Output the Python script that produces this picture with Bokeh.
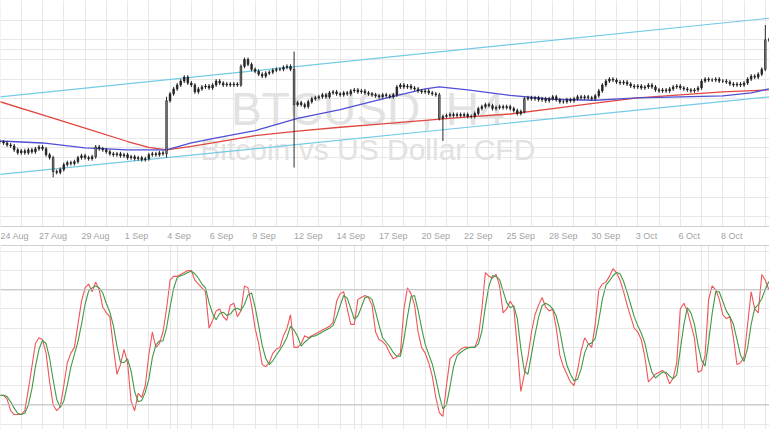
import numpy as np
from bokeh.plotting import figure
from bokeh.layouts import column
from bokeh.models import FixedTicker, Span, Label, Range1d, ColumnDataSource, Grid
from bokeh.embed import file_html
from bokeh.resources import INLINE

# ---------------- data (H4 bars, index 0 = 24 Aug 00:00) ----------------
close = [556, 555, 553, 552, 548, 545, 547, 545, 548, 546,
         549, 551, 549, 543, 540, 526, 525, 528, 533, 535,
         534, 536, 540, 542, 540, 539, 541, 551, 549, 548,
         546, 544, 543, 544, 542, 543, 540, 541, 539, 540,
         538, 539, 543, 544, 543, 545, 544, 598, 605, 610,
         614, 618, 622, 616, 614, 607, 610, 612, 613, 611,
         614, 618, 616, 614, 615, 614, 615, 614, 633, 640,
         635, 630, 628, 625, 623, 626, 627, 629, 630, 630,
         632, 633, 630, 594, 596, 594, 592, 597, 600, 601,
         602, 604, 602, 606, 607, 605, 604, 606, 605, 608,
         609, 607, 608, 606, 605, 604, 603, 602, 604, 603,
         602, 604, 612, 614, 612, 613, 611, 610, 608, 607,
         608, 606, 605, 604, 580, 582, 583, 584, 583, 584,
         583, 584, 582, 582, 585, 590, 592, 594, 593, 590,
         591, 592, 591, 592, 590, 588, 585, 587, 600, 601,
         600, 601, 599, 600, 598, 600, 602, 599, 597, 597,
         599, 598, 600, 602, 601, 602, 601, 600, 603, 608,
         614, 618, 620, 619, 617, 616, 617, 615, 613, 612,
         613, 611, 612, 614, 612, 609, 608, 609, 608, 610,
         612, 613, 611, 610, 609, 608, 609, 611, 618, 620,
         619, 619, 620, 618, 618, 617, 615, 614, 615, 614,
         616, 620, 623, 622, 625, 630, 660, 660]
first_open = 557
wick_high = {47: 602, 69: 642, 83: 648, 216: 675}
wick_low = {15: 520, 47: 540, 83: 530, 125: 557}
default_wick = 2

# moving averages (sampled)
red_ma_bars = [0, 12, 24, 36, 42, 47, 54, 60, 72, 84, 96, 108, 120, 132, 144, 156, 168, 180, 192, 204, 217]
red_ma = [597, 583.5, 570, 556.5, 550.5, 548, 551.5, 555, 562.5, 567, 571, 574.5, 578, 581.5,
          584.5, 590, 595.5, 601, 604, 607, 609]
blue_ma_bars = [0, 12, 24, 36, 47, 54, 60, 72, 84, 96, 108, 120, 124, 132, 144, 156, 168, 180,
                192, 204, 212, 217]
blue_ma = [557, 555, 550, 548, 548, 555, 559.5, 567.5, 580, 589, 600, 610, 612, 609, 603.5,
           599.5, 598.5, 601, 602, 603, 606, 610]

# trend channel
channel_bars = [0, 217.2]
channel_upper = [602, 682]
channel_lower = [523, 602]

# stochastic %K
stoch_k = [25, 25, 23, 17, 15, 15, 15, 17, 28, 40,
           52, 55, 54, 47, 32, 20, 17, 19, 30, 42,
           47, 50, 62, 74, 81, 83, 79, 84, 80, 71,
           68, 66, 50, 36, 41, 49, 42, 22, 17, 26,
           24, 30, 46, 58, 50, 52, 58, 70, 85, 87,
           87, 88, 89, 90, 90, 85, 83, 81, 79, 60,
           64, 69, 70, 66, 64, 72, 73, 66, 69, 82,
           81, 72, 60, 52, 41, 40, 42, 47, 49, 50,
           56, 60, 67, 50, 50, 52, 56, 55, 56, 57,
           58, 59, 60, 61, 63, 74, 78, 79, 70, 62,
           62, 75, 76, 77, 76, 72, 58, 54, 53, 51,
           47, 44, 45, 47, 70, 81, 78, 72, 58, 50,
           47, 42, 35, 24, 16, 14, 30, 44, 46, 47,
           49, 50, 50, 50, 50, 55, 70, 89, 87, 86,
           88, 82, 68, 70, 74, 71, 50, 27, 36, 45,
           58, 67, 72, 76, 71, 69, 70, 60, 46, 40,
           36, 32, 30, 38, 48, 55, 52, 50, 62, 80,
           83, 84, 87, 91, 89, 85, 79, 72, 66, 60,
           58, 54, 45, 32, 34, 36, 37, 38, 36, 31,
           34, 42, 70, 73, 69, 62, 55, 37, 38, 46,
           75, 82, 80, 75, 67, 65, 66, 55, 41, 42,
           45, 62, 79, 70, 68, 88, 85, 80]

tick_bars = [0, 12, 24, 36, 48, 60, 72, 84, 96, 108, 120, 132, 144, 156, 168, 180, 192, 204, 216]
tick_labels = ["24 Aug", "27 Aug", "29 Aug", "1 Sep", "4 Sep", "6 Sep", "9 Sep", "12 Sep",
               "14 Sep", "17 Sep", "20 Sep", "22 Sep", "25 Sep", "28 Sep", "30 Sep", "3 Oct",
               "6 Oct", "8 Oct", "11 Oct"]

# ---------------- derived ----------------
n = len(close)
bars = np.arange(n)
opens = [first_open] + close[:-1]
highs, lows = [], []
for i in range(n):
    hi = max(opens[i], close[i]) + default_wick
    lo = min(opens[i], close[i]) - default_wick
    highs.append(max(hi, wick_high.get(i, hi)))
    lows.append(min(lo, wick_low.get(i, lo)))
tops = [max(o, c) for o, c in zip(opens, close)]
bottoms = [min(o, c) for o, c in zip(opens, close)]
fills = ["#8f8f8f" if t - b > 8 else "#2a2a2a" for t, b in zip(tops, bottoms)]
src = ColumnDataSource(dict(x=bars, high=highs, low=lows, top=tops, bottom=bottoms, fill=fills))

k = np.array(stoch_k, dtype=float)
d = np.array([k[max(0, i - 2):i + 1].mean() for i in range(len(k))])
kb = np.arange(len(k))

xr = Range1d(0.14, 217.18)
FONT = "Liberation Sans"
GRID = "#e8e8e8"

# ---------------- top panel ----------------
top = figure(width=769, height=244, x_range=xr, y_range=Range1d(470, 700),
             output_backend="svg", toolbar_location=None, y_axis_location=None,
             min_border_left=0, min_border_right=0, min_border_top=0, min_border_bottom=18)
top.outline_line_color = None
top.xgrid.ticker = FixedTicker(ticks=list(range(0, 222, 6)))
top.xgrid.grid_line_color = GRID
top.add_layout(Grid(dimension=1, ticker=FixedTicker(ticks=list(range(480, 700, 20))),
                    grid_line_color=GRID))

centers = [t + len(lbl) * 0.5 for t, lbl in zip(tick_bars, tick_labels)]
top.xaxis.ticker = FixedTicker(ticks=centers)
top.xaxis.major_label_overrides = {c: l for c, l in zip(centers, tick_labels)}
top.xaxis.major_tick_line_color = None
top.xaxis.minor_tick_line_color = None
top.xaxis.major_tick_out = 0
top.xaxis.major_label_standoff = 4
top.xaxis.axis_line_color = "#cfcfcf"
top.xaxis.major_label_text_color = "#a3a3a3"
top.xaxis.major_label_text_font = FONT
top.xaxis.major_label_text_font_size = "9px"

for txt, yv, size in [("BTCUSD, H4", 590, "46px"), ("Bitcoin vs US Dollar CFD", 548, "30px")]:
    top.add_layout(Label(x=103.8, y=yv, text=txt, text_align="center", text_baseline="alphabetic",
                         text_font=FONT, text_font_size=size, text_color="#e2e2e2",
                         level="underlay"))

top.line(channel_bars, channel_upper, line_color="#74cbe6", line_width=1.2)
top.line(channel_bars, channel_lower, line_color="#74cbe6", line_width=1.2)
top.line(red_ma_bars, red_ma, line_color="#e0473f", line_width=1.3)
top.line(blue_ma_bars, blue_ma, line_color="#4f4fd6", line_width=1.3)

top.segment(x0="x", y0="low", x1="x", y1="high", source=src, line_color="#2a2a2a", line_width=1)
top.vbar(x="x", width=0.45, top="top", bottom="bottom", source=src,
         fill_color="fill", line_color="#1a1a1a", line_width=0.7)

# ---------------- bottom panel ----------------
bot = figure(width=769, height=185, x_range=xr, y_range=Range1d(7.2, 103.6),
             output_backend="svg", toolbar_location=None, x_axis_location=None,
             y_axis_location=None, min_border=0)
bot.outline_line_color = None
bot.add_layout(Grid(dimension=0, ticker=FixedTicker(ticks=list(range(0, 222, 6))),
                    grid_line_color=GRID))
bot.add_layout(Grid(dimension=1, ticker=FixedTicker(ticks=list(range(10, 101, 10))),
                    grid_line_color=GRID))
bot.add_layout(Span(location=103.1, dimension="width", line_color="#cfcfcf", line_width=1))
for lvl in (20, 80):
    bot.add_layout(Span(location=lvl, dimension="width", line_color="#bdbdbd", line_width=1))

bot.line(kb, k, line_color="#f0545a", line_width=1.1)
bot.line(kb, d, line_color="#3f9a45", line_width=1.1)

layout = column(top, bot, spacing=0)
open("out.html", "w").write(file_html(layout, INLINE))
